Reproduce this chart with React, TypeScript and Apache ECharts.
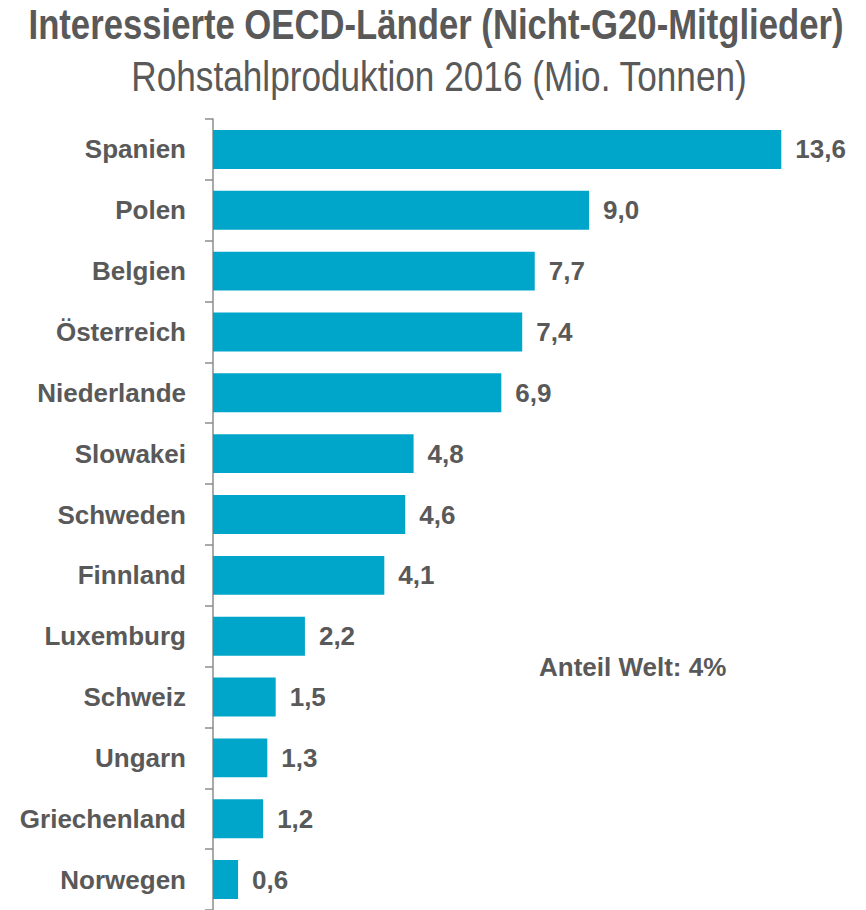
import React, { useEffect, useRef } from "react";
import * as echarts from "echarts";

const countries = [
  "Spanien",
  "Polen",
  "Belgien",
  "Österreich",
  "Niederlande",
  "Slowakei",
  "Schweden",
  "Finnland",
  "Luxemburg",
  "Schweiz",
  "Ungarn",
  "Griechenland",
  "Norwegen",
];
const production = [13.6, 9.0, 7.7, 7.4, 6.9, 4.8, 4.6, 4.1, 2.2, 1.5, 1.3, 1.2, 0.6];

const titleText = "Interessierte OECD-Länder (Nicht-G20-Mitglieder)";
const subtitleText = "Rohstahlproduktion 2016 (Mio. Tonnen)";
const noteText = "Anteil Welt: 4%";

const FONT = "'Liberation Sans', Arial, sans-serif";
const GRAY = "#595959";

export default function App() {
  const ref = useRef<HTMLDivElement>(null);
  useEffect(() => {
    if (!ref.current) return;
    const chart = echarts.init(ref.current, null, { renderer: "svg" });
    chart.setOption({
      animation: false,
      backgroundColor: "#ffffff",
      textStyle: { fontFamily: FONT },
      grid: { left: 213, right: 68, top: 119, bottom: -2, containLabel: false },
      xAxis: {
        type: "value",
        min: 0,
        max: 14,
        show: false,
      },
      yAxis: {
        type: "category",
        inverse: true,
        data: countries,
        axisLine: { show: true, lineStyle: { color: "#8c8c8c", width: 1.5 } },
        axisTick: { show: true, length: 8, lineStyle: { color: "#8c8c8c", width: 1.5 } },
        axisLabel: {
          color: GRAY,
          fontFamily: FONT,
          fontSize: 26,
          fontWeight: "bold",
          margin: 27,
        },
        splitLine: { show: false },
      },
      series: [
        {
          type: "bar",
          data: production,
          barCategoryGap: "36%",
          itemStyle: { color: "#00a6c9" },
          label: {
            show: true,
            position: "right",
            distance: 14,
            color: GRAY,
            fontFamily: FONT,
            fontSize: 26,
            fontWeight: "bold",
            formatter: (p: any) => Number(p.value).toFixed(1).replace(".", ","),
          },
        },
      ],
      graphic: [
        {
          type: "text",
          x: 436,
          y: 24,
          scaleX: 0.826,
          style: {
            text: titleText,
            fill: GRAY,
            font: `bold 42px ${FONT}`,
            textAlign: "center",
            textVerticalAlign: "middle",
          },
        },
        {
          type: "text",
          x: 439,
          y: 76,
          scaleX: 0.838,
          style: {
            text: subtitleText,
            fill: GRAY,
            font: `42px ${FONT}`,
            textAlign: "center",
            textVerticalAlign: "middle",
          },
        },
        {
          type: "text",
          x: 539,
          y: 667,
          style: {
            text: noteText,
            fill: GRAY,
            font: `bold 26px ${FONT}`,
            textVerticalAlign: "middle",
          },
        },
      ],
    });
    return () => chart.dispose();
  }, []);
  return <div ref={ref} style={{ width: 866, height: 910, position: "absolute", left: 0, top: 0 }} />;
}
